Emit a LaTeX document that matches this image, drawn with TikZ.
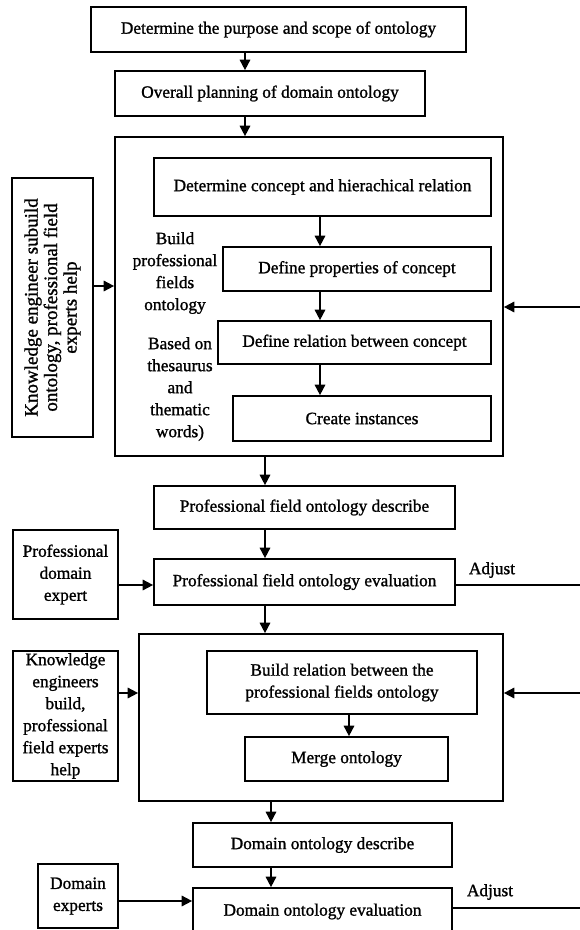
\documentclass[tikz,border=0pt]{standalone}
\usepackage{fontspec}
\setmainfont{Liberation Serif}[FakeBold=1.2]
\usetikzlibrary{arrows.meta}
\def\xa{245} % main arrows, top part
\def\xb{320} % arrows inside the first frame
\def\xc{265} % arrows around first evaluation
\def\xd{349} % arrow inside the second frame
\def\xe{271} % arrows around domain evaluation
\def\xr{580} % right border of the picture
\def\ya{286}
\def\yb{307}
\def\yc{585}
\def\yd{693}
\def\ye{901}
\def\yf{908}

\begin{document}
\begin{tikzpicture}[x=1pt,y=-1pt,
  box/.style={draw, line width=1.7pt, inner sep=0pt, align=center, font=\fontsize{17.3}{22}\selectfont},
  lbl/.style={inner sep=0pt, align=center, font=\fontsize{17.3}{22}\selectfont},
  flow/.style={-{Triangle[length=10.5pt,width=10.5pt]}, line width=1.7pt},
  back/.style={line width=1.7pt}]

\clip (0,0) rectangle (580,930);

% Top steps
\node[box, minimum width=375, minimum height=45] (purpose) at (278.5,29.5) {Determine the purpose and scope of ontology};
\node[box, minimum width=310, minimum height=45] (plan) at (270,93.5) {Overall planning of domain ontology};

% First frame
\node[box, minimum width=388, minimum height=319] (frameA) at (309,296.5) {};
\node[box, minimum width=337, minimum height=58] (concept) at (322.5,187) {Determine concept and hierachical relation};
\node[box, minimum width=268, minimum height=44] (props) at (357,269) {Define properties of concept};
\node[box, minimum width=273, minimum height=43] (rel) at (354.5,342.5) {Define relation between concept};
\node[box, minimum width=258, minimum height=45] (inst) at (362,418.5) {Create instances};
\node[lbl] (buildA) at (175,273) {Build\\professional\\fields\\ontology};
\node[lbl] (based) at (180,389) {Based on\\thesaurus\\and\\thematic\\words)};
\node[box, rotate=90, minimum width=259, minimum height=81, font=\fontsize{19}{19.5}\selectfont] (keng) at (52.5,307.5) {Knowledge engineer subuild\\ontology, professional field\\experts help};

% First evaluation
\node[box, minimum width=301, minimum height=43] (descA) at (304.5,507.5) {Professional field ontology describe};
\node[box, minimum width=301, minimum height=46] (evalA) at (304.5,582) {Professional field ontology evaluation};
\node[box, minimum width=105, minimum height=89] (pexp) at (65.5,574.5) {Professional\\domain\\expert};
\node[lbl] (adjA) at (492,570) {Adjust};

% Second frame
\node[box, minimum width=364, minimum height=167] (frameB) at (321,717.5) {};
\node[box, minimum width=270, minimum height=63] (relB) at (342,682.5) {Build relation between the\\professional fields ontology};
\node[box, minimum width=203, minimum height=44] (merge) at (346.5,759) {Merge ontology};
\node[box, minimum width=105, minimum height=130] (kengB) at (65.5,716) {Knowledge\\engineers\\build,\\professional\\field experts\\help};

% Domain evaluation
\node[box, minimum width=259, minimum height=44] (descB) at (322.5,845) {Domain ontology describe};
\node[box, minimum width=259, minimum height=47] (evalB) at (322.5,911.5) {Domain ontology evaluation};
\node[box, minimum width=80, minimum height=64] (dexp) at (78,896) {Domain\\experts};
\node[lbl] (adjB) at (490,892) {Adjust};

% Arrows
\draw[flow] (purpose.south -| \xa,0) -- (plan.north -| \xa,0);
\draw[flow] (plan.south -| \xa,0) -- (frameA.north -| \xa,0);
\foreach \a/\b in {concept/props, props/rel, rel/inst} {
    \draw[flow] (\a.south -| \xb,0) -- (\b.north -| \xb,0);
}
\foreach \a/\b in {frameA/descA, descA/evalA, evalA/frameB} {
    \draw[flow] (\a.south -| \xc,0) -- (\b.north -| \xc,0);
}
\draw[flow] (relB.south -| \xd,0) -- (merge.north -| \xd,0);
\foreach \a/\b in {frameB/descB, descB/evalB} {
    \draw[flow] (\a.south -| \xe,0) -- (\b.north -| \xe,0);
}
\draw[flow] (keng.south |- 0,\ya) -- (frameA.west |- 0,\ya);
\draw[flow] (pexp.east |- 0,\yc) -- (evalA.west |- 0,\yc);
\draw[flow] (kengB.east |- 0,\yd) -- (frameB.west |- 0,\yd);
\draw[flow] (dexp.east |- 0,\ye) -- (evalB.west |- 0,\ye);

% Adjust loops (leave the picture on the right)
\coordinate (outA) at (\xr,\yc);
\coordinate (inA) at (\xr,\yb);
\coordinate (outB) at (\xr,\yf);
\coordinate (inB) at (\xr,\yd);
\draw[back] (evalA.east |- outA) -- (outA);
\draw[flow] (inA) -- (frameA.east |- inA);
\draw[back] (evalB.east |- outB) -- (outB);
\draw[flow] (inB) -- (frameB.east |- inB);

\end{tikzpicture}
\end{document}
